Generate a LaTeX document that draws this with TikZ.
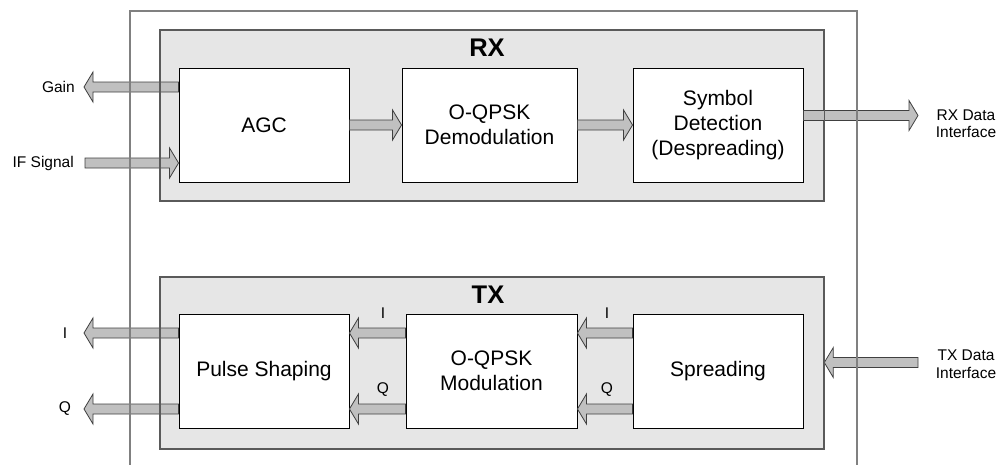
\documentclass[tikz,border=0pt]{standalone}
\usepackage{fontspec}
\setmainfont{Liberation Sans}
\usetikzlibrary{calc}
\definecolor{panelfill}{HTML}{E6E6E6}
\definecolor{paneledge}{HTML}{5A5A5A}
\definecolor{outeredge}{HTML}{808080}
\definecolor{arrowfill}{HTML}{C0C0C0}
\definecolor{arrowedge}{HTML}{404040}
\pgfdeclarelayer{back}
\pgfsetlayers{back,main}
\tikzset{
  panel/.style={fill=panelfill, draw=paneledge, line width=1.3pt, inner sep=0pt, anchor=north west},
  outerline/.style={draw=outeredge, line width=1.3pt},
  block/.style={draw=black, line width=0.9pt, fill=white, inner sep=0pt,
    minimum height=114pt, align=center,
    font=\fontsize{21}{25}\selectfont},
  lbl/.style={inner sep=0pt, font=\fontsize{15.5}{17.5}\selectfont, align=center},
  title/.style={inner sep=0pt, font=\fontsize{25.5}{28}\selectfont\bfseries},
  fatarr/.style={fill=arrowfill, draw=arrowedge, line width=0.8pt, line join=miter}
}
\newcommand{\fatarrow}[2]{%
  \draw[fatarr] let \p1=#1, \p2=#2, \n1={ifthenelse(\x2>\x1,9,-9)} in
    ({\x1},{\y1+5pt}) -- ({\x2-(\n1)*1pt},{\y1+5pt}) -- ({\x2-(\n1)*1pt},{\y1+15pt})
    -- ({\x2},{\y1}) -- ({\x2-(\n1)*1pt},{\y1-15pt}) -- ({\x2-(\n1)*1pt},{\y1-5pt})
    -- ({\x1},{\y1-5pt}) -- cycle;}
\begin{document}
\begin{tikzpicture}[x=1pt,y=-1pt]
\useasboundingbox (0,0) rectangle (1000,464);

% panels
\node[panel, minimum width=663pt, minimum height=170pt] (rxbox) at (160,30) {};
\node[panel, minimum width=663pt, minimum height=171pt] (txbox) at (160,277) {};

% free arrow ends
\coordinate (gainTip) at (84,87);
\coordinate (ifStart) at (85,163);
\coordinate (rxTip) at (918,115.5);
\coordinate (iTip) at (84,333);
\coordinate (qTip) at (84,409);
\coordinate (txStart) at (918,362.5);

% blocks
\node[block, minimum width=170pt] (agc) at (264,125) {AGC};
\node[block, minimum width=175pt] (demod) at (489.5,125) {O-QPSK\\Demodulation};
\node[block, minimum width=170pt] (sym) at (718,125) {Symbol\\Detection\\(Despreading)};
\node[block, minimum width=170pt] (pulse) at (264,371) {Pulse Shaping};
\node[block, minimum width=171pt] (mod) at (491.5,371) {O-QPSK\\Modulation};
\node[block, minimum width=170pt] (spread) at (718,371) {Spreading};

% arrows
\fatarrow{(agc.west |- gainTip)}{(gainTip)}
\fatarrow{(ifStart)}{(agc.west |- ifStart)}
\fatarrow{(agc.east)}{(demod.west)}
\fatarrow{(demod.east)}{(sym.west)}
\fatarrow{(sym.east |- rxTip)}{(rxTip)}
\fatarrow{(pulse.west |- iTip)}{(iTip)}
\fatarrow{(pulse.west |- qTip)}{(qTip)}
\fatarrow{(mod.west |- iTip)}{(pulse.east |- iTip)}
\fatarrow{(mod.west |- qTip)}{(pulse.east |- qTip)}
\fatarrow{(spread.west |- iTip)}{(mod.east |- iTip)}
\fatarrow{(spread.west |- qTip)}{(mod.east |- qTip)}
\fatarrow{(txStart)}{(txbox.east |- txStart)}

% panel edges and outer frame over the arrows
\draw[draw=paneledge, line width=1.3pt] (rxbox.north west) rectangle (rxbox.south east);
\draw[draw=paneledge, line width=1.3pt] (txbox.north west) rectangle (txbox.south east);
\draw[outerline] (130,470) -- (130,11) -- (857,11) -- (857,470);

% titles
\node[title] (rxt) at (487,48) {RX};
\node[title] (txt) at (488,295) {TX};

% labels
\node[lbl, anchor=east] (gainL) at (75,87) {Gain};
\node[lbl, anchor=east] (ifL) at (74,163) {IF Signal};
\node[lbl] (rxL) at (966,123.5) {RX Data\\Interface};
\node[lbl] (txL) at (966,364) {TX Data\\Interface};
\node[lbl] (iL) at (65,333) {I};
\node[lbl] (qL) at (65,409) {Q};
\node[lbl] (i1) at (383,313) {I};
\node[lbl] (q1) at (383,390) {Q};
\node[lbl] (i2) at (607,313) {I};
\node[lbl] (q2) at (607,390) {Q};
\end{tikzpicture}
\end{document}
